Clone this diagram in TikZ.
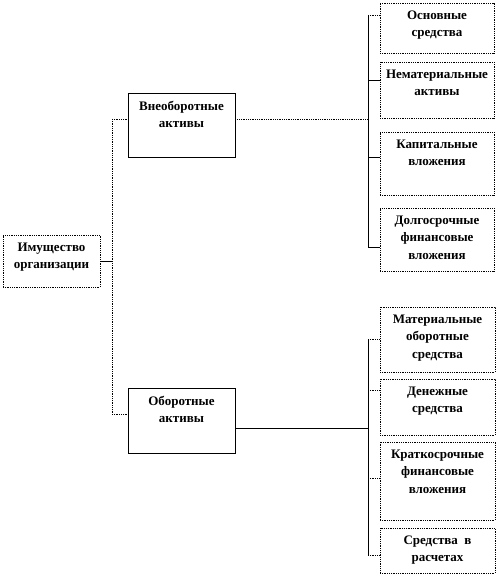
\documentclass[tikz,border=0pt]{standalone}
\usepackage{fontspec}
\setmainfont{Liberation Serif}
\usepackage{tikz}
\tikzset{
  box/.style={rectangle,draw=black,densely dotted,line width=0.8pt,fill=white,inner sep=0pt},
  mainbox/.style={rectangle,draw=black,line width=0.8pt,fill=white,inner sep=0pt},
  lbl/.style={anchor=north,align=center,inner sep=0pt,yshift=-8pt,
    font=\fontsize{13}{17.5}\selectfont\bfseries},
  solidline/.style={draw=black,line width=0.8pt},
  dotline/.style={draw=black,line width=0.8pt,densely dotted}
}
\begin{document}
\begin{tikzpicture}[x=1pt,y=-1pt]
\useasboundingbox (0,0) rectangle (498,585);

% root
\node[box, minimum width=97pt, minimum height=52pt] (imu) at (51.5,261) {};
\node[lbl] (imut) at (imu.north) {Имущество\\организации};

% second level
\node[mainbox, minimum width=107pt, minimum height=64pt] (vne) at (181.5,125) {};
\node[lbl] (vnet) at (vne.north) {Внеоборотные\\активы};
\node[mainbox, minimum width=107pt, minimum height=65pt] (obo) at (181.5,420.5) {};
\node[lbl] (obot) at (obo.north) {Оборотные\\активы};

% non-current assets
\node[box, minimum width=114pt, minimum height=50pt] (osn) at (437,28) {};
\node[lbl] (osnt) at (osn.north) {Основные\\средства};
\node[box, minimum width=114pt, minimum height=56pt] (nem) at (437,90) {};
\node[lbl] (nemt) at (nem.north) {Нематериальные\\активы};
\node[box, minimum width=114pt, minimum height=63pt] (kap) at (437,163.5) {};
\node[lbl] (kapt) at (kap.north) {Капитальные\\вложения};
\node[box, minimum width=114pt, minimum height=63pt] (dol) at (437,239.5) {};
\node[lbl] (dolt) at (dol.north) {Долгосрочные\\финансовые\\вложения};

% current assets
\node[box, minimum width=115pt, minimum height=65pt] (mat) at (437.5,339.5) {};
\node[lbl] (matt) at (mat.north) {Материальные\\оборотные\\средства};
\node[box, minimum width=115pt, minimum height=56pt] (den) at (437.5,407) {};
\node[lbl] (dent) at (den.north) {Денежные\\средства};
\node[box, minimum width=115pt, minimum height=78pt] (kra) at (437.5,481) {};
\node[lbl] (krat) at (kra.north) {Краткосрочные\\финансовые\\вложения};
\node[box, minimum width=115pt, minimum height=45pt] (sre) at (437.5,550.5) {};
\node[lbl] (sret) at (sre.north) {Средства~~в\\расчетах};

% buses
\coordinate (lbtop) at (112,119);
\coordinate (lbbot) at (112,414);
\coordinate (rbtop) at (368,15);
\coordinate (rbbot) at (368,247);
\coordinate (rctop) at (368,339);
\coordinate (rcbot) at (368,555);

\draw[dotline] (lbtop) -- (lbbot);
\draw[solidline] (imu.east) -- (imu.east -| lbtop);
\draw[dotline] (lbtop) -- (lbtop -| vne.west);
\draw[dotline] (lbbot) -- (lbbot -| obo.west);

\draw[dotline] (vne.east |- lbtop) -- (rbtop |- lbtop);
\draw[solidline] (rbtop) -- (rbbot);
\draw[dotline] (rbtop) -- (rbtop -| osn.west);
\draw[solidline] (368,80) -- (nem.west |- 0,80);
\draw[solidline] (368,157) -- (kap.west |- 0,157);
\draw[solidline] (rbbot) -- (rbbot -| dol.west);

\draw[solidline] (obo.east |- 0,428) -- (368,428);
\draw[solidline] (rctop) -- (rcbot);
\draw[dotline] (rctop) -- (rctop -| mat.west);
\draw[dotline] (368,390) -- (den.west |- 0,390);
\draw[dotline] (368,478) -- (kra.west |- 0,478);
\draw[dotline] (rcbot) -- (rcbot -| sre.west);
\end{tikzpicture}
\end{document}
